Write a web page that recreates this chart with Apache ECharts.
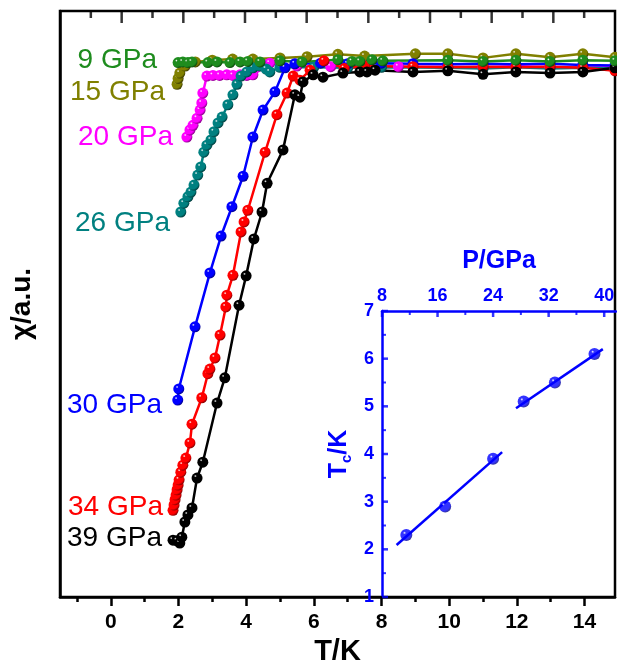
<!DOCTYPE html>
<html>
<head>
<meta charset="utf-8">
<script src="https://cdn.jsdelivr.net/npm/echarts@6/dist/echarts.min.js"></script>
<style>
  html, body { margin: 0; padding: 0; background: #fff; }
  #chart { width: 617px; height: 670px; }
</style>
</head>
<body>
<div id="chart"></div>
<script>
/* main panel: [T (K), chi (a.u.)] */
var p9 = [[1.99,91.2],[2.13,91.3],[2.28,91.2],[2.40,91.3],[2.87,91.2],[3.14,91.3],[3.52,91.2],[3.82,91.3],[4.05,91.4],[4.41,91.3],[5.0,91.5],[5.65,91.3],[6.71,91.7],[7.13,91.4],[7.36,91.4],[7.72,91.7],[8.04,91.5],[9.96,91.6],[11.0,91.4],[11.97,91.6],[12.98,91.4],[13.95,91.6],[14.9,91.5]];
var p15 = [[1.96,87.5],[1.99,88.5],[2.04,89.4],[2.2,90.6],[2.5,91.3],[3.0,91.6],[3.6,91.8],[4.2,91.8],[5.0,92.0],[5.8,92.2],[6.71,92.6],[7.5,92.3],[9.0,92.7],[9.96,92.7],[11.0,92.0],[11.97,92.7],[12.98,92.1],[13.95,92.7],[14.9,92.1]];
var p20 = [[2.25,78.5],[2.34,79.7],[2.43,80.5],[2.55,81.7],[2.64,83.1],[2.69,84.3],[2.72,86.0],[2.84,88.9],[3.02,89.0],[3.22,89.0],[3.43,89.1],[3.61,89.0],[3.82,89.1],[4.02,89.0],[4.20,89.1],[4.70,91.1],[5.5,90.6],[6.5,90.5],[7.5,90.6],[8.5,90.5],[9.96,90.5],[11.0,90.4],[11.97,90.6],[12.98,90.4],[13.95,90.5],[14.9,90.4]];
var p26 = [[2.07,65.7],[2.16,67.2],[2.28,68.3],[2.37,69.1],[2.46,70.3],[2.57,72.0],[2.66,73.4],[2.75,75.9],[2.84,77.1],[2.96,78.0],[3.05,79.4],[3.17,80.9],[3.29,81.9],[3.46,84.0],[3.61,85.7],[3.73,87.5],[3.85,88.9],[4.02,89.6],[4.20,90.3],[4.41,90.6],[4.59,90.1],[4.70,89.6],[5.0,90.4],[6.0,90.4],[7.0,90.3],[8.0,90.4],[9.96,90.3],[11.0,90.2],[11.97,90.4],[12.98,90.2],[13.95,90.3],[14.9,90.2]];
var p30 = [[1.98,33.6],[2.01,35.5],[2.49,46.1],[2.93,55.3],[3.26,61.6],[3.58,66.6],[3.91,71.8],[4.20,78.5],[4.50,83.1],[4.85,86.2],[5.15,90.3],[5.44,91.0],[6.2,91.1],[7.0,91.0],[8.0,91.1],[8.93,91.0],[9.96,90.9],[11.0,91.0],[11.97,90.9],[12.98,91.0],[13.95,90.8],[14.9,90.7]];
var p34 = [[1.84,14.8],[1.87,15.7],[1.90,16.6],[1.93,17.4],[1.96,18.3],[1.99,19.1],[2.02,20.0],[2.07,21.3],[2.13,22.5],[2.22,23.7],[2.34,26.3],[2.40,29.5],[2.69,34.0],[2.87,38.1],[2.93,38.9],[3.08,40.8],[3.23,44.7],[3.40,49.5],[3.43,51.5],[3.61,54.9],[3.85,62.3],[3.94,64.0],[4.05,66.0],[4.56,75.9],[4.91,82.3],[5.21,86.0],[5.39,88.9],[5.59,88.2],[5.89,89.9],[6.3,91.5],[6.9,90.2],[7.5,90.6],[8.93,90.5],[9.96,90.4],[11.0,90.5],[11.97,90.4],[12.98,90.5],[13.95,90.3],[14.9,89.8]];
var p39 = [[1.84,9.7],[1.96,9.6],[2.04,9.2],[2.10,10.2],[2.19,12.8],[2.28,14.0],[2.40,15.2],[2.55,20.3],[2.72,23.0],[3.14,33.1],[3.37,37.4],[3.79,49.8],[4.0,54.8],[4.23,61.1],[4.47,65.7],[4.62,70.6],[5.09,76.3],[5.44,85.7],[5.59,85.3],[5.68,87.9],[5.98,89.1],[6.27,88.7],[6.86,89.4],[7.36,89.6],[7.57,89.6],[7.81,89.9],[8.93,89.6],[9.96,89.8],[11.0,89.2],[11.97,89.6],[12.98,89.4],[13.95,89.6],[14.9,90.3]];

var curveNames = ['9 GPa', '15 GPa', '20 GPa', '26 GPa', '30 GPa', '34 GPa', '39 GPa'];

/* inset: Tc vs P */
var insetP = [11.5, 17.1, 24.0, 28.4, 32.9, 38.6];
var insetTc = [2.3, 2.9, 3.9, 5.1, 5.5, 6.1];
var fitLow = [[10.1, 2.09], [25.3, 4.04]];
var fitHigh = [[27.3, 4.96], [39.8, 6.2]];

/* ticks and tick labels */
var tMajor = [0, 2, 4, 6, 8, 10, 12, 14];
var tMinor = [-1, 1, 3, 5, 7, 9, 11, 13];
var topMajor = [2, 4, 6, 8, 10, 12, 14, 16];
var topMinor = [1, 3, 5, 7, 9, 11, 13, 15, 17];
var pMajor = [8, 16, 24, 32, 40];
var pMinor = [12, 20, 28, 36];
var tcMajor = [1, 2, 3, 4, 5, 6, 7];
var tcMinor = [1.5, 2.5, 3.5, 4.5, 5.5, 6.5];

var FONT = 'Liberation Sans, Arial, sans-serif';
var BLUE = '#0000FF';

function ball(c, dark) {
  return {
    type: 'radial', x: 0.35, y: 0.32, r: 0.7,
    colorStops: [
      { offset: 0, color: '#ffffff' },
      { offset: 0.18, color: c },
      { offset: 0.75, color: c },
      { offset: 1, color: dark }
    ]
  };
}

function curve(name, data, c, dark) {
  return {
    name: name,
    type: 'line',
    xAxisIndex: 0,
    yAxisIndex: 0,
    data: data,
    symbol: 'circle',
    symbolSize: 11,
    lineStyle: { color: c, width: 2.5 },
    itemStyle: { color: ball(c, dark) },
    z: 3
  };
}

/* inward ticks drawn as thin rect symbols, placed by the axes' scales */
function tickMarks(xi, yi, points, size, offset, color) {
  return {
    type: 'scatter', xAxisIndex: xi, yAxisIndex: yi,
    data: points, symbol: 'rect', symbolSize: size, symbolOffset: offset,
    itemStyle: { color: color }, clip: false, silent: true, z: 6,
    emphasis: { disabled: true }
  };
}

var chartDom = document.getElementById('chart');
var myChart = echarts.init(chartDom);
var option;

var labelPos = [[157, 60], [165, 92], [173, 137], [170, 223], [162, 405], [163, 507], [162, 538]];
var labelColors = ['#1E8C1E', '#808000', '#FF00FF', '#008080', '#0000FF', '#FF0000', '#000000'];

option = {
  animation: false,
  backgroundColor: '#fff',
  grid: [
    { left: 60, top: 11, right: 2, bottom: 73, outerBoundsMode: 'none', show: true, borderColor: '#000', borderWidth: 2.5, backgroundColor: 'transparent' },
    { left: 382, top: 311, right: 1, bottom: 73, outerBoundsMode: 'none' },
    { left: 60, top: 11, right: 2, bottom: 73, outerBoundsMode: 'none' },
    { left: 60, top: 11, right: 2, bottom: 73, outerBoundsMode: 'none' }
  ],
  xAxis: [
    {
      gridIndex: 0, type: 'value', position: 'bottom', min: -1.5, max: 14.9,
      axisLine: { onZero: false, lineStyle: { color: '#000', width: 2.5 } },
      axisTick: { show: true, customValues: tMajor, inside: false, length: 9, lineStyle: { color: '#000', width: 2.5 } },
      axisLabel: { customValues: tMajor, margin: 15, color: '#000', fontSize: 21, fontWeight: 'bold', fontFamily: FONT },
      splitLine: { show: false },
      name: 'T/K', nameLocation: 'middle', nameGap: 40,
      nameTextStyle: { color: '#000', fontSize: 29, fontWeight: 'bold', fontFamily: FONT }
    },
    {
      gridIndex: 1, type: 'value', position: 'top', min: 8, max: 41.7,
      axisLine: { onZero: false, lineStyle: { color: BLUE, width: 2.5 } },
      axisTick: { show: false },
      axisLabel: { customValues: pMajor, margin: 6, color: BLUE, fontSize: 18, fontWeight: 'bold', fontFamily: FONT },
      splitLine: { show: false },
      name: 'P/GPa', nameLocation: 'middle', nameGap: 37,
      nameTextStyle: { color: BLUE, fontSize: 25, fontWeight: 'bold', fontFamily: FONT }
    },
    {
      /* minor ticks along the bottom */
      gridIndex: 2, type: 'value', position: 'bottom', min: -1.5, max: 14.9,
      axisLine: { show: false, onZero: false },
      axisTick: { show: true, customValues: tMinor, inside: false, length: 5, lineStyle: { color: '#000', width: 2.5 } },
      axisLabel: { show: false },
      splitLine: { show: false }
    },
    {
      /* scale of the mirror ticks along the top */
      gridIndex: 3, type: 'value', min: 0, max: 18, show: false
    }
  ],
  yAxis: [
    {
      gridIndex: 0, type: 'value', min: 0, max: 100,
      axisLine: { onZero: false, lineStyle: { color: '#000', width: 2.5 } },
      axisTick: { show: false },
      axisLabel: { show: false },
      splitLine: { show: false },
      name: 'χ/a.u.', nameLocation: 'middle', nameGap: 24,
      nameTextStyle: { color: '#000', fontSize: 28, fontWeight: 'bold', fontFamily: FONT }
    },
    {
      gridIndex: 1, type: 'value', min: 1, max: 7,
      axisLine: { onZero: false, lineStyle: { color: BLUE, width: 2.5 } },
      axisTick: { show: false },
      axisLabel: { customValues: tcMajor, margin: 8, color: BLUE, fontSize: 18, fontWeight: 'bold', fontFamily: FONT },
      splitLine: { show: false },
      name: 'T{s|c}/K', nameLocation: 'middle', nameGap: 28,
      nameTextStyle: {
        color: BLUE, fontSize: 25, fontWeight: 'bold', fontFamily: FONT,
        rich: { s: { color: BLUE, fontSize: 15, fontWeight: 'bold', fontFamily: FONT, padding: [14, 0, 0, 0] } }
      }
    },
    { gridIndex: 2, type: 'value', min: 0, max: 1, show: false },
    { gridIndex: 3, type: 'value', min: 0, max: 1, show: false }
  ],
  graphic: curveNames.map(function (n, i) {
    return {
      type: 'text', x: labelPos[i][0], y: labelPos[i][1], z: 10,
      style: { text: n, fill: labelColors[i], font: '28px ' + FONT, textAlign: 'right', textVerticalAlign: 'middle' }
    };
  }),
  series: [
    curve('15 GPa', p15, '#808000', '#3d3d00'),
    curve('20 GPa', p20, '#FF00FF', '#8a008a'),
    curve('26 GPa', p26, '#008080', '#003d3d'),
    curve('30 GPa', p30, '#0000FF', '#00008a'),
    curve('34 GPa', p34, '#FF0000', '#8a0000'),
    curve('39 GPa', p39, '#000000', '#000000'),
    curve('9 GPa', p9, '#1E8C1E', '#0a450a'),
    {
      type: 'line', xAxisIndex: 1, yAxisIndex: 1, data: fitLow,
      symbol: 'none', lineStyle: { color: BLUE, width: 2.5 }
    },
    {
      type: 'line', xAxisIndex: 1, yAxisIndex: 1, data: fitHigh,
      symbol: 'none', lineStyle: { color: BLUE, width: 2.5 }
    },
    {
      type: 'scatter', xAxisIndex: 1, yAxisIndex: 1,
      data: insetP.map(function (p, i) { return [p, insetTc[i]]; }),
      symbolSize: 12,
      itemStyle: { color: ball(BLUE, '#00008a') },
      z: 4
    },
    tickMarks(3, 3, topMajor.map(function (v) { return [v, 1]; }), [2.5, 12], [0, 6], '#000'),
    tickMarks(3, 3, topMinor.map(function (v) { return [v, 1]; }), [2.5, 7], [0, 3.5], '#000'),
    tickMarks(1, 1, pMajor.map(function (v) { return [v, 7]; }), [2.5, 6], [0, 3], BLUE),
    tickMarks(1, 1, pMinor.map(function (v) { return [v, 7]; }), [2, 4], [0, 2], BLUE),
    tickMarks(1, 1, tcMajor.map(function (v) { return [8, v]; }), [6, 2.5], [3, 0], BLUE),
    tickMarks(1, 1, tcMinor.map(function (v) { return [8, v]; }), [4, 2], [2, 0], BLUE)
  ]
};
option && myChart.setOption(option);
</script>
</body>
</html>
